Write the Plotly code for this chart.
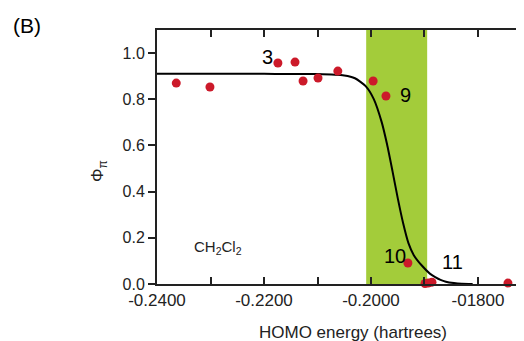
import plotly.graph_objects as go

# Measured data points (HOMO energy, hartrees ; quantum yield)
homo_x = [-0.2364, -0.2301, -0.2174, -0.2142, -0.2127, -0.2099, -0.2062,
          -0.1996, -0.1972, -0.1931, -0.1899, -0.1893, -0.1886, -0.1744]
phi_y = [0.870, 0.853, 0.957, 0.961, 0.879, 0.892, 0.922,
         0.879, 0.814, 0.091, 0.002, 0.004, 0.008, 0.004]

# Fitted curve
fit_x = [-0.2400, -0.2200, -0.2100, -0.2050, -0.2030, -0.2010, -0.1995, -0.1980,
         -0.1970, -0.1960, -0.1950, -0.1940, -0.1930, -0.1920, -0.1905, -0.1890,
         -0.1880, -0.1870, -0.1860, -0.1845, -0.1830, -0.1810]
fit_y = [0.910, 0.910, 0.909, 0.903, 0.891, 0.857, 0.802, 0.701,
         0.605, 0.491, 0.372, 0.264, 0.177, 0.125, 0.080, 0.045,
         0.030, 0.018, 0.010, 0.004, 0.001, 0.000]

band = [-0.2009, -0.1895]

xtick_vals = [-0.24, -0.22, -0.20, -0.18]
xtick_text = ["-0.2400", "-0.2200", "-0.2000", "-01800"]
xminor_vals = [-0.23, -0.21, -0.19]
ytick_vals = [0.0, 0.2, 0.4, 0.6, 0.8, 1.0]

labels = [("3", -0.2194, 0.983), ("9", -0.1936, 0.818),
          ("10", -0.1955, 0.121), ("11", -0.1847, 0.095)]

FONT = "Liberation Sans, Arial, Helvetica, sans-serif"
# page has an 8px body margin; figure is sized to compensate
OFF = 8
W, H = 524 - OFF, 341 - OFF
L, R, T, B = 157 - OFF, 0, 30 - OFF, 57
pw, ph = W - L - R, H - T - B


def px(x, y):
    """page pixel -> paper coords"""
    return (x - OFF - L) / pw, (H - B - (y - OFF)) / ph


fig = go.Figure()
fig.add_shape(type="rect", x0=band[0], x1=band[1], y0=0, y1=1.1, xref="x", yref="y",
              fillcolor="#a3cc3a", line_width=0, layer="below")
fig.add_trace(go.Scatter(x=fit_x, y=fit_y, mode="lines",
                         line=dict(color="black", width=2, shape="spline", smoothing=0.6),
                         hoverinfo="skip"))
fig.add_trace(go.Scatter(x=homo_x, y=phi_y, mode="markers",
                         marker=dict(color="#cc1a2a", size=9), cliponaxis=False))

for t, x, y in labels:
    fig.add_annotation(x=x, y=y, text=t, showarrow=False, xanchor="center", yanchor="middle",
                       font=dict(size=20, color="black", family=FONT))
fig.add_annotation(x=-0.2286, y=0.160, text="CH<sub>2</sub>Cl<sub>2</sub>", showarrow=False,
                   xanchor="center", yanchor="middle",
                   font=dict(size=15, color="#222", family=FONT))

bx, by = px(27, 25)
fig.add_annotation(x=bx, y=by, xref="paper", yref="paper", text="(B)", showarrow=False,
                   xanchor="center", yanchor="middle",
                   font=dict(size=21, color="black", family=FONT))
tx, ty = px(353, 332)
fig.add_annotation(x=tx, y=ty, xref="paper", yref="paper", text="HOMO energy (hartrees)",
                   showarrow=False, xanchor="center", yanchor="middle",
                   font=dict(size=17, color="#222", family=FONT))
yx, yy = px(99, 171)
fig.add_annotation(x=yx, y=yy, xref="paper", yref="paper", text="Φ<sub>π</sub>",
                   showarrow=False, textangle=-90, xanchor="center", yanchor="middle",
                   font=dict(size=17, color="#222", family=FONT))

fig.update_layout(
    width=W, height=H, margin=dict(l=L, r=R, t=T, b=B),
    paper_bgcolor="white", plot_bgcolor="white", showlegend=False,
    font=dict(family=FONT, size=16, color="#222"),
    xaxis=dict(range=[-0.24, -0.1714], tickvals=xtick_vals, ticktext=xtick_text,
               ticks="inside", ticklen=7, tickwidth=1.5, tickcolor="#222",
               showline=True, linecolor="#222", linewidth=2, mirror="ticks",
               showgrid=False, zeroline=False,
               minor=dict(tickvals=xminor_vals, ticks="inside", ticklen=7,
                          tickwidth=1.5, tickcolor="#222", showgrid=False),
               tickfont=dict(size=17)),
    yaxis=dict(range=[0, 1.1], tickvals=ytick_vals, tickformat=".1f",
               ticks="outside", ticklen=7, tickwidth=1.5, tickcolor="#222",
               showline=True, linecolor="#222", linewidth=2,
               showgrid=False, zeroline=False, tickfont=dict(size=16)),
)
fig.write_html("out.html")
